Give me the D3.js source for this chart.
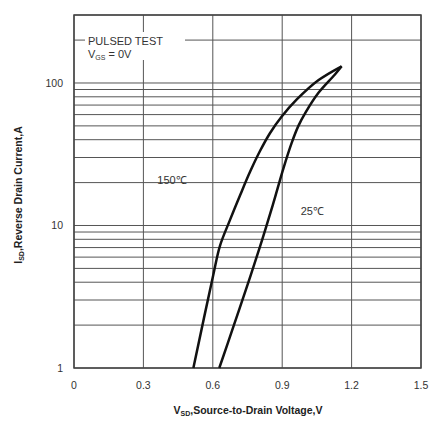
<!DOCTYPE html>
<html><head><meta charset="utf-8">
<script src="https://cdn.jsdelivr.net/npm/d3@7"></script>
<style>body{margin:0;background:#fff}text{font-family:"Liberation Sans",Arial,sans-serif}</style>
</head><body><svg id="c" width="435" height="421"></svg>
<script>
const xTicks = [0, 0.3, 0.6, 0.9, 1.2, 1.5];
const yTickLabels = [1, 10, 100];
const curve150V = [0.516, 0.602, 0.631, 0.674, 0.718, 0.761, 0.804, 0.847, 0.898, 0.963, 1.056, 1.157];
const curve150I = [1, 4.5, 7.2, 10.9, 16.3, 23.8, 33.3, 44.4, 58.1, 76.6, 104.5, 131];
const curve25V = [0.628, 0.689, 0.754, 0.804, 0.826, 0.862, 0.905, 0.941, 0.97, 1.0, 1.056, 1.128, 1.157];
const curve25I = [1, 1.95, 4.0, 7.1, 9.25, 14.4, 25.1, 38, 50, 61.7, 85, 114.8, 131];
const labels = [{t:"150℃", v:0.36, i:19.5}, {t:"25℃", v:0.98, i:11.8}];

const svg = d3.select("#c");
const L=74, R=421, T=15, B=368;
const x = d3.scaleLinear().domain([0,1.5]).range([L,R]);
const y = d3.scaleLog().domain([1,300]).range([B,T]);
const grid = "#555";

const hLines = [];
for (let d of [1,10,100]) for (let k=1;k<=9;k++){ const v=d*k; if (v<=300) hLines.push(v); }
svg.append("g").selectAll("line").data(hLines).join("line")
  .attr("x1",L).attr("x2",R).attr("y1",d=>y(d)).attr("y2",d=>y(d))
  .attr("stroke",grid).attr("stroke-width",1);
svg.append("g").selectAll("line").data(xTicks).join("line")
  .attr("x1",d=>x(d)).attr("x2",d=>x(d)).attr("y1",T).attr("y2",B)
  .attr("stroke",grid).attr("stroke-width",1);
svg.append("rect").attr("x",L).attr("y",T).attr("width",R-L).attr("height",B-T)
  .attr("fill","none").attr("stroke","#444").attr("stroke-width",1.5);

svg.append("g").selectAll("text").data(xTicks).join("text")
  .attr("x",d=>x(d)).attr("y",389).attr("text-anchor","middle")
  .attr("font-size",10.5).attr("fill","#333").text(d=>d===0?"0":d3.format(".1f")(d));
svg.append("g").selectAll("text").data(yTickLabels).join("text")
  .attr("x",63).attr("y",d=>y(d)+4).attr("text-anchor","end")
  .attr("font-size",10.5).attr("fill","#333").text(d=>d);

svg.append("rect").attr("x",85).attr("y",32).attr("width",100).attr("height",28).attr("fill","#fff");
svg.append("text").attr("x",88).attr("y",45).attr("font-size",11).attr("fill","#333").text("PULSED TEST");
const vg = svg.append("text").attr("x",88).attr("y",58).attr("font-size",11).attr("fill","#333");
vg.append("tspan").text("V");
vg.append("tspan").attr("font-size",7).attr("dy",2).text("GS");
vg.append("tspan").attr("dy",-2).text(" = 0V");

const line = d3.line().x(d=>x(d[0])).y(d=>y(d[1])).curve(d3.curveCatmullRom.alpha(0.5));
const d150 = curve150V.map((v,i)=>[v,curve150I[i]]);
const d25 = curve25V.map((v,i)=>[v,curve25I[i]]);
svg.append("path").attr("d",line(d150)).attr("fill","none").attr("stroke","#111").attr("stroke-width",2.5);
svg.append("path").attr("d",line(d25)).attr("fill","none").attr("stroke","#111").attr("stroke-width",2.5);

svg.append("g").selectAll("text").data(labels).join("text")
  .attr("x",d=>x(d.v)).attr("y",d=>y(d.i)).attr("font-size",11).attr("fill","#333").text(d=>d.t);

const xt = svg.append("text").attr("x",248).attr("y",414).attr("text-anchor","middle")
  .attr("font-size",10.5).attr("font-weight","bold").attr("fill","#222");
xt.append("tspan").text("V");
xt.append("tspan").attr("font-size",7).attr("dy",2).text("SD");
xt.append("tspan").attr("dy",-2).text(",Source-to-Drain Voltage,V");
const yt = svg.append("text").attr("transform","translate(22,195) rotate(-90)").attr("text-anchor","middle")
  .attr("font-size",10.5).attr("font-weight","bold").attr("fill","#222");
yt.append("tspan").text("I");
yt.append("tspan").attr("font-size",7).attr("dy",2).text("SD");
yt.append("tspan").attr("dy",-2).text(",Reverse Drain Current,A");
</script></body></html>
